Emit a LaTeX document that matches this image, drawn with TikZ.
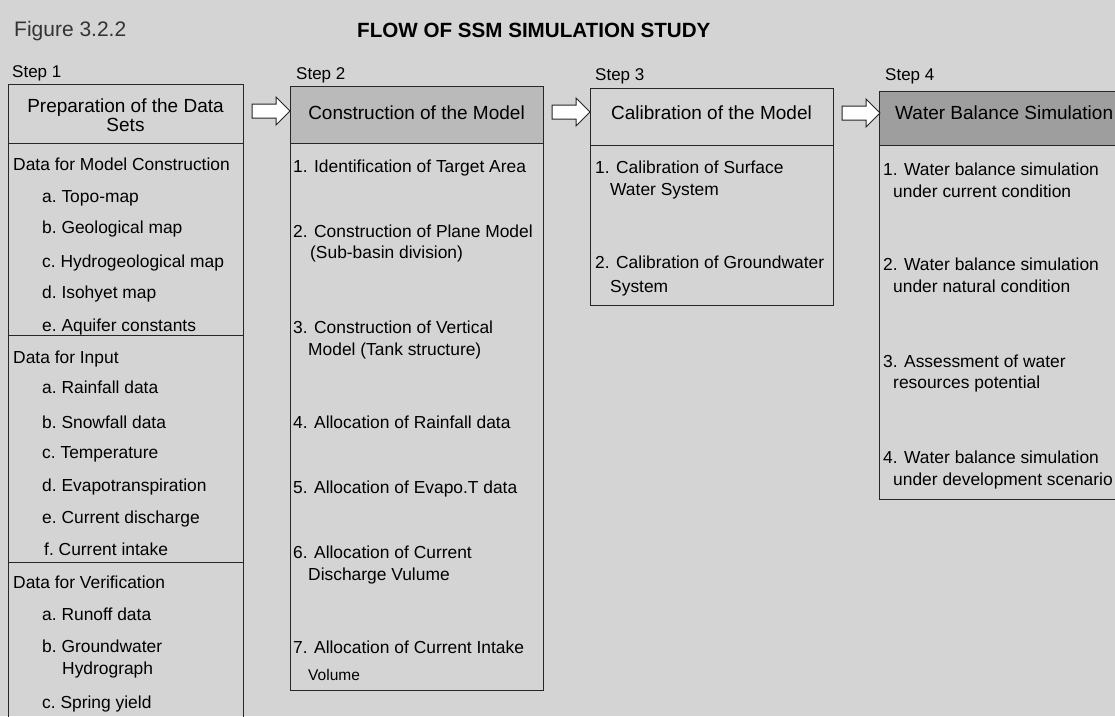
\documentclass[tikz,border=0pt]{standalone}
\usepackage{fontspec}
\setmainfont{Liberation Sans}
\usetikzlibrary{shapes.arrows}
\tikzset{
  boxline/.style={draw=black!85,line width=0.9pt},
  item/.style={anchor=base west,inner sep=0pt,font=\fontsize{17.4}{20}\selectfont},
  head/.style={inner sep=0pt,align=center,font=\fontsize{19}{19}\selectfont},
  steplbl/.style={anchor=base west,inner sep=0pt,font=\fontsize{17}{20}\selectfont},
  blockarrow/.style={single arrow,draw=black!85,fill=white,line width=1pt,inner xsep=0pt,
    inner ysep=6.5pt,single arrow head extend=7pt,minimum height=38pt}
}
\begin{document}
\begin{tikzpicture}[x=1pt,y=-1pt]
  \useasboundingbox (0,0) rectangle (1115,716);
  \clip (0,0) rectangle (1115,716);
  \fill[black!17] (0,0) rectangle (1115,716);
   \coordinate (Sone) at (8,84);    \coordinate (Sones) at (243,740);
   \coordinate (Stwo) at (290,86);  \coordinate (Stwos) at (543,690);
   \coordinate (Sthree) at (590,88); \coordinate (Sthrees) at (833,305);
   \coordinate (Sfour) at (879,91);  \coordinate (Sfours) at (1130,499);
  \node[anchor=base west,inner sep=0pt,text=black!80,font=\fontsize{21}{24}\selectfont] (fig) at (14,36) {Figure 3.2.2};
  \node[anchor=base west,inner sep=0pt,font=\bfseries\fontsize{20.6}{24}\selectfont] (title) at (357,37) {FLOW OF SSM SIMULATION STUDY};
  % shaded heads of step 2 and step 4
  \fill[black!27] (Stwo) rectangle (543,143);
  \fill[black!38] (Sfour) rectangle (1130,145);
  \draw[boxline] (Sone) rectangle (Sones);
  \draw[boxline] (Stwo) rectangle (Stwos);
  \draw[boxline] (Sthree) rectangle (Sthrees);
  \draw[boxline] (Sfour) rectangle (Sfours);
  \foreach \y in {143,335,562} \draw[boxline] (8,\y) -- (243,\y);
  \draw[boxline] (290,143) -- (543,143);
  \draw[boxline] (590,145) -- (833,145);
  \draw[boxline] (879,145) -- (1130,145);
  \foreach \x/\y/\t [count=\i] in {12/77/Step 1,296/79/Step 2,595/80/Step 3,885/80/Step 4}
    \node[steplbl] (step\i) at (\x,\y) {\t};
  \node[head] (Hone) at (125.5,115) {Preparation of the Data\\Sets};
  \node[head] (Htwo) at (416.5,113) {Construction of the Model};
  \node[head] (Hthree) at (711.5,113) {Calibration of the Model};
  \node[head,anchor=west] (Hfour) at (895,113) {Water Balance Simulation};
  \node[blockarrow] (Aone) at (267.5,111) {};
  \node[blockarrow] (Atwo) at (567.5,112) {};
  \node[blockarrow] (Athree) at (857.5,113) {};
  \foreach \x/\y/\t [count=\i] in {13/170/Data for Model Construction,42/202/a.\ Topo-map,
      42/233/b.\ Geological map,42/267/c.\ Hydrogeological map,42/298/d.\ Isohyet map,
      42/331/e.\ Aquifer constants,13/363/Data for Input,42/393/a.\ Rainfall data,
      42/428/b.\ Snowfall data,42/458/c.\ Temperature,42/491/d.\ Evapotranspiration,
      42/523/e.\ Current discharge,44/555/f.\ Current intake,13/588/Data for Verification,
      42/620/a.\ Runoff data,42/652/b.\ Groundwater,62/674/Hydrograph,42/708/c.\ Spring yield}
    \node[item] (Ione\i) at (\x,\y) {\t};
  \foreach \x/\y/\t [count=\i] in {293/172/1. Identification of Target Area,
      293/237/2. Construction of Plane Model,310/258/(Sub-basin division),
      293/333/3. Construction of Vertical,308/355/Model (Tank structure),
      293/428/4. Allocation of Rainfall data,293/493/5. Allocation of Evapo.T data,
      293/558/6. Allocation of Current,308/580/Discharge Vulume,
      293/653/7. Allocation of Current Intake}
    \node[item] (Itwo\i) at (\x,\y) {\t};
  \node[item,font=\fontsize{15.5}{18}\selectfont] (Itwo11) at (308,680) {Volume};
  \foreach \x/\y/\t [count=\i] in {595/173/1. Calibration of Surface,610/195/Water System,
      595/268/2. Calibration of Groundwater,610/292/System}
    \node[item] (Ithree\i) at (\x,\y) {\t};
  \foreach \x/\y/\t [count=\i] in {883/175/1. Water balance simulation,893/197/under current condition,
      883/270/2. Water balance simulation,893/292/under natural condition,
      883/367/3. Assessment of water,893/388/resources potential,
      883/463/4. Water balance simulation,893/485/under development scenario}
    \node[item] (Ifour\i) at (\x,\y) {\t};
\end{tikzpicture}
\end{document}
